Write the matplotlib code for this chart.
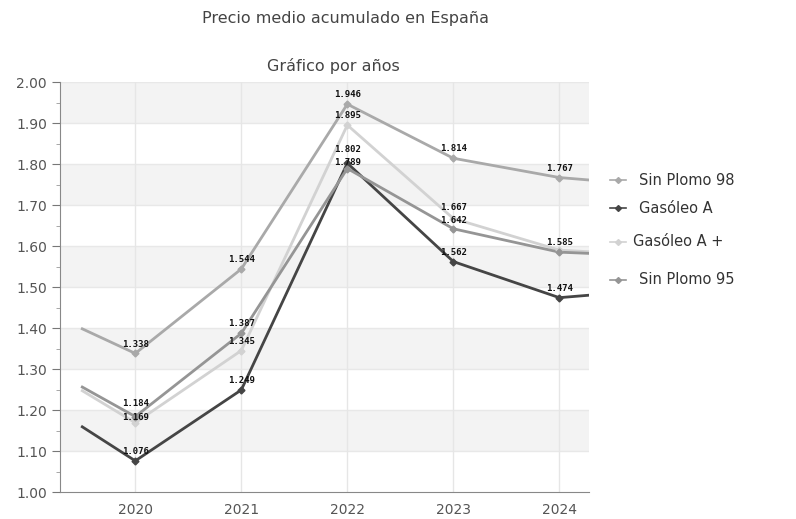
import numpy as np
import matplotlib.pyplot as plt
from matplotlib.lines import Line2D

# years shown on the axis, plus the clipped ends of each line
years = [2020, 2021, 2022, 2023, 2024]
x_start = 2019.5
x_end = 2024.28

series_names = ['Sin Plomo 98', 'Gasóleo A', 'Gasóleo A +', 'Sin Plomo 95']
sp98 = [1.338, 1.544, 1.946, 1.814, 1.767]
gasoleo_a = [1.076, 1.249, 1.802, 1.562, 1.474]
gasoleo_a_plus = [1.169, 1.345, 1.895, 1.667, 1.590]
sp95 = [1.184, 1.387, 1.789, 1.642, 1.585]
start_vals = [1.398, 1.159, 1.247, 1.256]
end_vals = [1.761, 1.480, 1.586, 1.582]

# which points carry a value label (one is hidden in the original)
show_label = [
    [True] * 5,
    [True] * 5,
    [True, True, True, True, False],
    [True] * 5,
]
# small vertical nudges so crowded labels don't sit on top of each other
label_nudge = [
    [0, 0, 0, 0, 0],
    [0, 0, 0.010, 0, 0],
    [-0.010, 0, 0, 0.004, 0],
    [0.008, 0, -0.008, -0.002, 0],
]

colors = ['#a9a9a9', '#454545', '#d2d2d2', '#959595']

fig = plt.figure(figsize=(7.96, 5.19), dpi=100)
ax = fig.add_axes([0.0754, 0.052, 0.6646, 0.790])

ax.set_xlim(2019.29, 2024.28)
ax.set_ylim(1.0, 2.0)

# alternating horizontal bands
for k in range(10):
    lo = 1.0 + k * 0.1
    if k % 2 == 1:
        ax.axhspan(lo, lo + 0.1, color='#f3f3f3', zorder=0, lw=0)
for v in np.arange(1.1, 2.01, 0.1):
    ax.axhline(v, color='#e8e8e8', lw=1, zorder=0.5)
for yr in years:
    ax.axvline(yr, color='#e6e6e6', lw=1, zorder=0.5)

all_vals = [sp98, gasoleo_a, gasoleo_a_plus, sp95]
for i, vals in enumerate(all_vals):
    xs = [x_start] + years + [x_end]
    ys = [start_vals[i]] + vals + [end_vals[i]]
    ax.plot(xs, ys, color=colors[i], lw=2, zorder=3)
    ax.plot(years, vals, 'D', color=colors[i], ms=3.5, zorder=4)
    for j, v in enumerate(vals):
        if show_label[i][j]:
            ax.text(years[j], v + 0.012 + label_nudge[i][j], '%.3f' % v,
                    ha='center', va='bottom', fontsize=6.5,
                    family='DejaVu Sans Mono', fontweight='bold',
                    color='#111111', zorder=5)

ax.set_xticks(years)
ax.set_xticklabels([str(y) for y in years])
ax.set_yticks(np.arange(1.0, 2.01, 0.1))
ax.set_yticklabels(['%.2f' % v for v in np.arange(1.0, 2.01, 0.1)])
ax.set_yticks(np.arange(1.05, 2.0, 0.1), minor=True)
ax.tick_params(axis='x', length=0, labelsize=10, colors='#555555', pad=8)
ax.tick_params(axis='y', which='major', length=6, labelsize=10, colors='#777777', labelcolor='#555555')
ax.tick_params(axis='y', which='minor', length=3, colors='#999999')

for s in ['top', 'right']:
    ax.spines[s].set_visible(False)
ax.spines['left'].set_color('#888888')
ax.spines['bottom'].set_color('#888888')

fig.text(0.434, 0.965, 'Precio medio acumulado en España', ha='center', va='center',
         fontsize=11.5, color='#444444')
fig.text(0.419, 0.873, 'Gráfico por años', ha='center', va='center',
         fontsize=11.5, color='#444444')

# legend entries, placed by hand to match the uneven spacing
leg_y = [0.653, 0.599, 0.534, 0.461]
leg_text_x = [0.803, 0.803, 0.795, 0.803]
for i, name in enumerate(series_names):
    fig.add_artist(Line2D([0.766, 0.786], [leg_y[i], leg_y[i]], color=colors[i], lw=1.2,
                          transform=fig.transFigure))
    fig.add_artist(Line2D([0.776], [leg_y[i]], color=colors[i], marker='D', ms=3,
                          transform=fig.transFigure))
    fig.text(leg_text_x[i], leg_y[i], name, ha='left', va='center', fontsize=10.5,
             color='#333333')

fig.savefig('out.png', dpi=100)
